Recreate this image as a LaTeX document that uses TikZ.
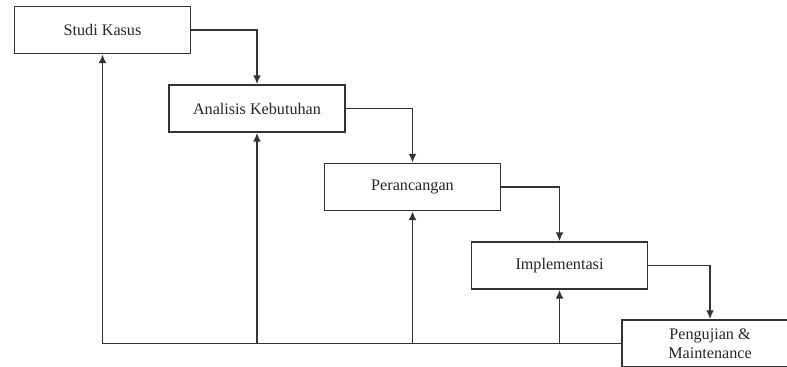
\documentclass[tikz,border=0pt]{standalone}
\usepackage{fontspec}
\setmainfont{Liberation Serif}
\usetikzlibrary{arrows.meta,positioning}

\tikzset{
  tahap/.style={draw=black!80, line width=1pt, rectangle, minimum width=3.52cm, minimum height=0.94cm,
    inner sep=1pt, align=center, font=\fontsize{9.2}{10.5}\selectfont, text=black!85},
  alur/.style={draw=black!80, line width=0.9pt, -{Latex[length=5pt,width=4.5pt]}},
}

\begin{document}
\begin{tikzpicture}[x=0.02cm, y=-0.02cm]
\clip (0,0) rectangle (787,367);
\fill[white] (0,0) rectangle (787,367);

% Tahapan
\node[tahap] (studi) at (102.5,30) {Studi Kasus};
\node[tahap] (analisis) at (257,108.5) {Analisis Kebutuhan};
\node[tahap] (perancangan) at (412.5,187) {Perancangan};
\node[tahap] (implementasi) at (559.5,265.5) {Implementasi};
\node[tahap] (pengujian) at (710,343.5) {Pengujian \&\\Maintenance};

% Alur maju
\draw[alur] (studi.east) -| (analisis.north);
\draw[alur] (analisis.east) -| (perancangan.north);
\draw[alur] (perancangan.east) -| (implementasi.north);
\draw[alur] (implementasi.east) -| (pengujian.north);

% Alur balik
\draw[alur] (pengujian.west) -| (studi.south);
\draw[alur] (analisis.south |- pengujian.west) -- (analisis.south);
\draw[alur] (perancangan.south |- pengujian.west) -- (perancangan.south);
\draw[alur] (implementasi.south |- pengujian.west) -- (implementasi.south);
\end{tikzpicture}
\end{document}
